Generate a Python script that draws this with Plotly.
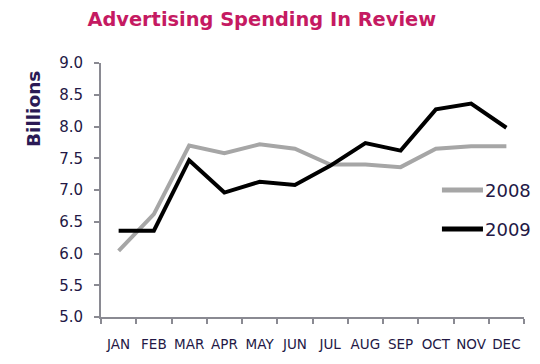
import plotly.graph_objects as go

months = ["JAN", "FEB", "MAR", "APR", "MAY", "JUN", "JUL", "AUG", "SEP", "OCT", "NOV", "DEC"]
spend_2008 = [6.04, 6.62, 7.70, 7.58, 7.72, 7.65, 7.40, 7.40, 7.36, 7.65, 7.69, 7.69]
spend_2009 = [6.36, 6.36, 7.47, 6.96, 7.13, 7.08, 7.38, 7.74, 7.62, 8.27, 8.36, 7.98]
y_ticks = [5.0, 5.5, 6.0, 6.5, 7.0, 7.5, 8.0, 8.5, 9.0]
series = [("2008", spend_2008, "#a6a6a6", 0.50), ("2009", spend_2009, "#000000", 0.346)]

text_col = "#231845"
axis_col = "#8a8a92"

fig = go.Figure()
for name, vals, col, ly in series:
    fig.add_trace(go.Scatter(x=months, y=vals, mode="lines", name=name,
                             line=dict(color=col, width=4), showlegend=False))
    # legend sample drawn manually (longer line than plotly's default)
    fig.add_shape(type="line", xref="paper", yref="paper", x0=0.806, x1=0.903, y0=ly, y1=ly,
                  line=dict(color=col, width=5))
    fig.add_annotation(text=name, xref="paper", yref="paper", x=0.903, y=ly,
                       xanchor="left", yanchor="middle", showarrow=False,
                       font=dict(size=18, color=text_col, family="DejaVu Sans"))

fig.add_annotation(text="<b>Billions</b>", xref="paper", yref="paper", x=-0.16, y=0.82,
                   textangle=-90, xanchor="center", yanchor="middle", showarrow=False,
                   font=dict(size=18.5, color="#2b1a55", family="DejaVu Sans"))

fig.update_layout(
    width=532, height=356,
    margin=dict(l=93, r=16, t=55, b=47, autoexpand=False),
    paper_bgcolor="white", plot_bgcolor="white",
    title=dict(text="<b>Advertising Spending In Review</b>", x=0.477, xanchor="center",
               y=0.969, yanchor="middle",
               font=dict(family="DejaVu Sans", size=19.4, color="#c51a62")),
    font=dict(family="DejaVu Sans", color=text_col),
    showlegend=False,
    xaxis=dict(type="category", range=[-0.5, 11.5], showgrid=False, showline=True,
               linecolor=axis_col, linewidth=2, ticks="outside", tickson="boundaries",
               ticklen=5, tickcolor=axis_col, tickwidth=1.5, ticklabelstandoff=14,
               tickangle=0, automargin=False,
               tickfont=dict(size=13.5, color=text_col, family="DejaVu Sans")),
    yaxis=dict(range=[5, 9], tickvals=y_ticks, tickformat=".1f", showgrid=False,
               showline=True, linecolor=axis_col, linewidth=2, ticks="outside",
               ticklen=5, tickcolor=axis_col, tickwidth=1.5, zeroline=False,
               ticklabelstandoff=8, automargin=False,
               tickfont=dict(size=15, color=text_col, family="DejaVu Sans")),
)

fig.write_html("out.html")
